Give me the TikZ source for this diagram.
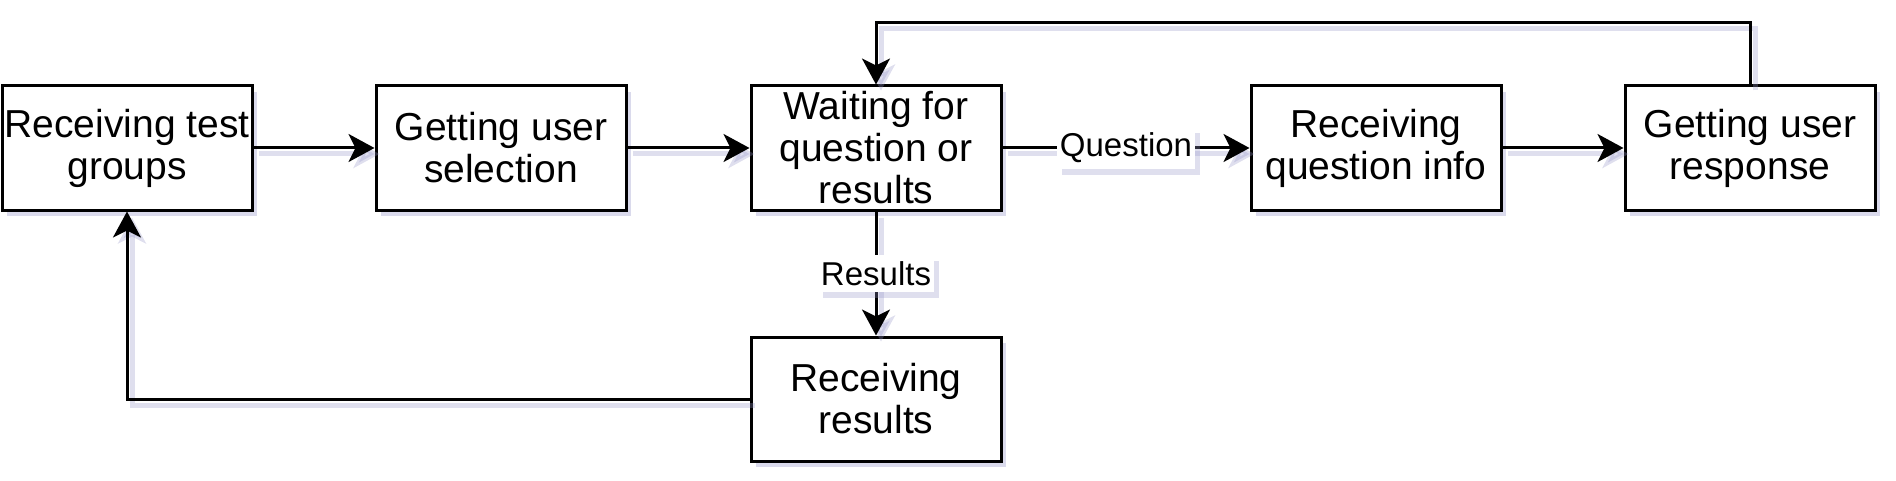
\documentclass[tikz,border=0pt]{standalone}
\usepackage{fontspec}
\setmainfont{Liberation Sans}
\usetikzlibrary{arrows.meta,shadows}
\definecolor{shcol}{RGB}{150,150,200}
\tikzset{
  box/.style={draw=black, line width=1.5pt, fill=white, minimum width=125pt, minimum height=62pt,
    inner sep=0pt, align=center, font=\fontsize{19.5}{21}\selectfont,
    drop shadow={shadow xshift=2.5pt, shadow yshift=-3pt, fill=shcol, opacity=0.35}},
  conn/.style={line width=1.5pt, -{Stealth[length=13pt,width=14pt,inset=3.5pt]},
    preaction={draw=shcol, opacity=0.3, line width=2.5pt, transform canvas={xshift=2.5pt,yshift=-3pt}}},
  lbl/.style={fill=white, inner xsep=1.5pt, inner ysep=3pt, font=\fontsize{16.5}{19}\selectfont,
    drop shadow={shadow xshift=2.5pt, shadow yshift=-3pt, fill=shcol, opacity=0.3}}
}
\begin{document}
\begin{tikzpicture}[x=0.5pt,y=-0.5pt]
\useasboundingbox (0,0) rectangle (1896,481);
\node[box] (b1) at (127,148) {Receiving test\\groups};
\node[box] (b2) at (501,148) {Getting user\\selection};
\node[box] (b3) at (876,148) {Waiting for\\question or\\results};
\node[box] (b4) at (1376,148) {Receiving\\question info};
\node[box] (b5) at (1750,148) {Getting user\\response};
\node[box] (b6) at (876,399) {Receiving\\results};
\coordinate (topy) at (0,23);
\draw[conn] (b1) -- (b2);
\draw[conn] (b2) -- (b3);
\draw[conn] (b3) -- node[lbl] (lq) {Question} (b4);
\draw[conn] (b4) -- (b5);
\draw[conn] (b5.north) -- (b5.north |- topy) -| (b3.north);
\draw[conn] (b3) -- node[lbl] (lr) {Results} (b6);
\draw[conn] (b6.west) -| (b1.south);
\end{tikzpicture}
\end{document}
